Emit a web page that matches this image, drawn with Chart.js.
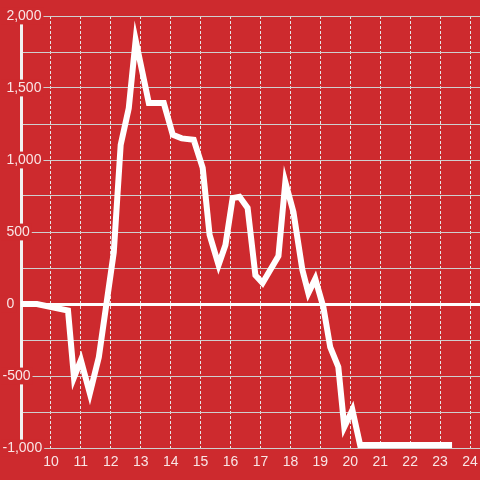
<!DOCTYPE html>
<html>
<head>
<meta charset="utf-8">
<script src="https://cdn.jsdelivr.net/npm/chart.js@4/dist/chart.umd.min.js"></script>
<style>
  html, body { margin: 0; padding: 0; background: #cd2a2e; }
  canvas { display: block; }
</style>
</head>
<body>
<canvas id="c" width="480" height="480"></canvas>
<script>
// Data (x = hour of day, y = value)
const hours = [9.0, 9.53, 10.57, 10.77, 11.0, 11.3, 11.6, 12.1, 12.33, 12.6, 12.83, 13.27, 13.77, 14.07, 14.37, 14.77, 15.07, 15.3, 15.6, 15.83, 16.07, 16.3, 16.57, 16.83, 17.07, 17.6, 17.83, 18.1, 18.4, 18.6, 18.83, 19.1, 19.33, 19.6, 19.8, 20.07, 20.33, 23.4];
const values = [0, 0, -45, -510, -390, -620, -370, 360, 1105, 1360, 1833, 1395, 1395, 1175, 1150, 1140, 945, 480, 271, 410, 736, 745, 667, 200, 146, 333, 847, 639, 236, 76, 174, -21, -300, -437, -854, -736, -980, -980];
const xTickValues = [10, 11, 12, 13, 14, 15, 16, 17, 18, 19, 20, 21, 22, 23, 24];
const yLabelValues = [-1000, -500, 0, 500, 1000, 1500, 2000];

const BG = '#cd2a2e';
const TEXT = 'rgba(255,255,255,0.88)';
const GRID = '#cfcfcf';

const bgPlugin = {
  id: 'bg',
  beforeDraw(chart) {
    const ctx = chart.ctx;
    ctx.save();
    ctx.fillStyle = BG;
    ctx.fillRect(0, 0, chart.width, chart.height);
    ctx.restore();
  }
};

new Chart(document.getElementById('c'), {
  type: 'line',
  data: {
    datasets: [{
      data: hours.map((h, i) => ({ x: h, y: values[i] })),
      borderColor: '#ffffff',
      borderWidth: 6,
      pointRadius: 0,
      tension: 0,
      fill: false
    }]
  },
  options: {
    responsive: false,
    animation: false,
    devicePixelRatio: 1,
    layout: { padding: { left: 2, top: 16, right: 0, bottom: 0 } },
    plugins: { legend: { display: false }, tooltip: { enabled: false } },
    scales: {
      x: {
        type: 'linear',
        min: 9,
        max: 24.3333,
        afterBuildTicks(scale) {
          scale.ticks = xTickValues.map(v => ({ value: v }));
        },
        afterFit(scale) {
          scale.height = 32;
          scale.paddingLeft = 0;
          scale.paddingRight = 0;
        },
        grid: { color: '#e6e6e6', lineWidth: 1, drawTicks: false },
        border: { display: false, dash: [3, 2] },
        ticks: {
          color: TEXT,
          font: { family: 'Liberation Sans', size: 14 },
          padding: 6,
          maxRotation: 0,
          autoSkip: false,
          callback: v => String(v)
        }
      },
      y: {
        type: 'linear',
        min: -1000,
        max: 2000,
        afterFit(scale) { scale.width = 19; },
        grid: {
          drawTicks: false,
          color: c => (c.tick && c.tick.value === 0) ? '#ffffff' : GRID,
          lineWidth: c => (c.tick && c.tick.value === 0) ? 3 : 1
        },
        border: { display: true, color: '#f2f2f2', width: 3 },
        ticks: {
          stepSize: 250,
          z: 1,
          mirror: true,
          crossAlign: 'near',
          padding: -18.5,
          color: TEXT,
          font: { family: 'Liberation Sans', size: 14 },
          autoSkip: false,
          showLabelBackdrop: c => yLabelValues.includes(c.tick.value),
          backdropColor: BG,
          backdropPadding: { top: 0, bottom: 0, left: 1, right: 2 },
          callback: v => yLabelValues.includes(v)
            ? (v < 0 ? '-' : ' ') + Math.abs(v).toLocaleString('en-US')
            : ''
        }
      }
    }
  },
  plugins: [bgPlugin]
});
</script>
</body>
</html>
